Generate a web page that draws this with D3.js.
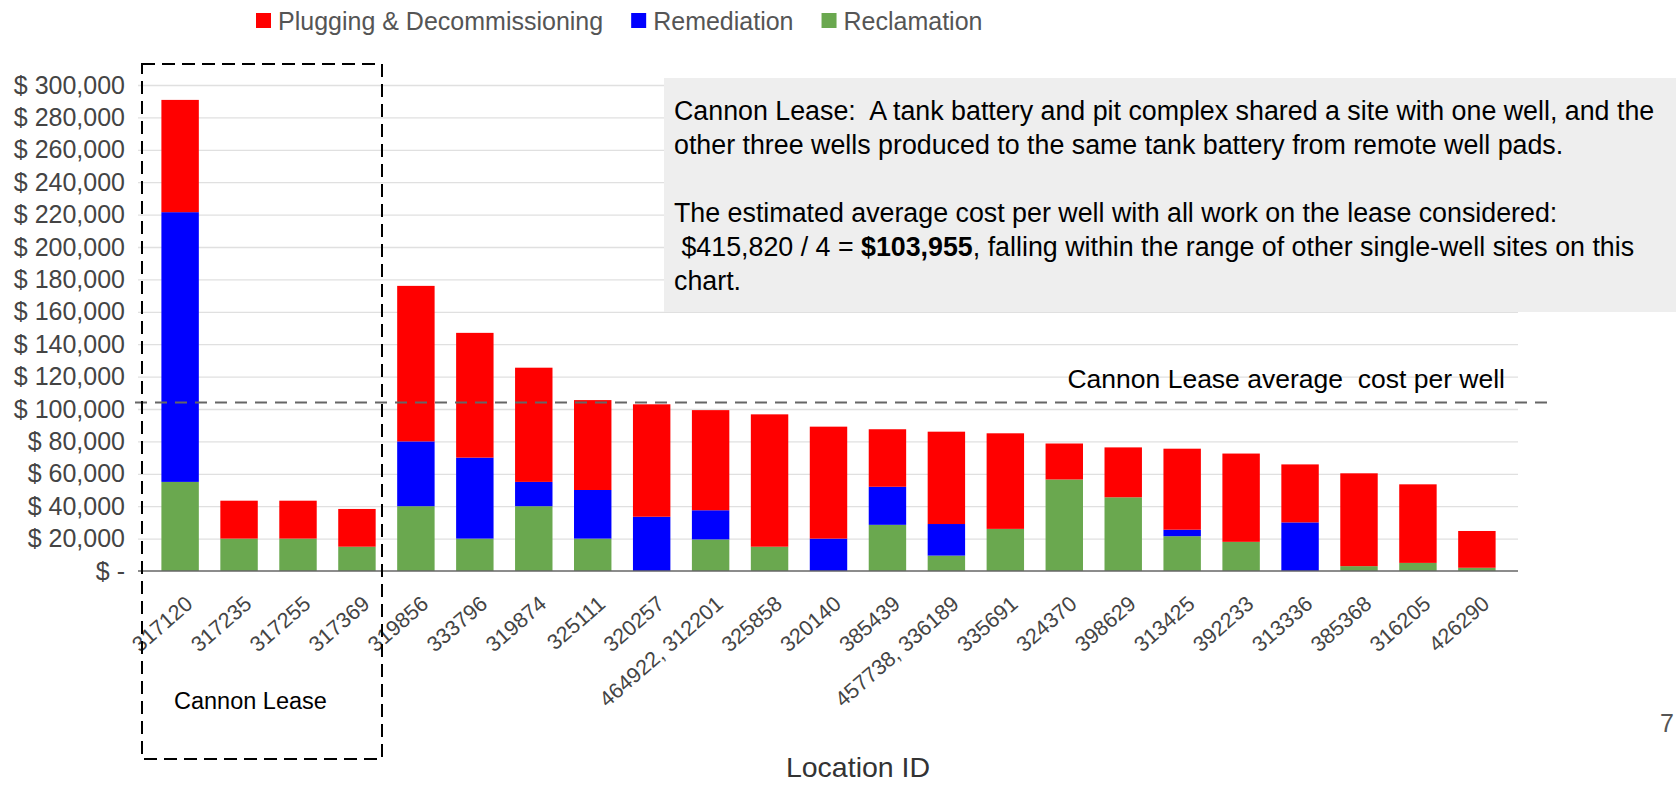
<!DOCTYPE html>
<html><head><meta charset="utf-8">
<script src="https://cdn.jsdelivr.net/npm/d3@7"></script>
<style>
html,body{margin:0;padding:0;background:#fff;}
svg{display:block;font-family:"Liberation Sans",Arial,Helvetica,sans-serif;}
</style>
</head><body>
<svg id="chart" width="1676" height="786"></svg>
<script>
// ---------------- data ----------------
const locations = ["317120","317235","317255","317369","319856","333796","319874","325111","320257","464922, 312201","325858","320140","385439","457738, 336189","335691","324370","398629","313425","392233","313336","385368","316205","426290"];
const reclamation = [55000,20000,20000,15000,40000,20000,40000,20000,0,19500,15000,0,28500,9500,26000,56500,45500,21500,18000,0,3000,5000,2000];
const remediation = [166500,0,0,0,40000,50000,15000,30000,33500,18000,0,20000,23500,19500,0,0,0,4000,0,30000,0,0,0];
const plugging = [69300,23400,23400,23300,96000,77000,70500,55500,69400,61800,81700,69100,35500,57000,59000,22200,30800,50000,54500,35800,57300,48500,22700];
const seriesNames = ["Plugging & Decommissioning","Remediation","Reclamation"];
const seriesColors = ["#ff0000","#0000ff","#6aa84f"];
const yTicks = [0,20000,40000,60000,80000,100000,120000,140000,160000,180000,200000,220000,240000,260000,280000,300000];
const leaseAverage = 103955;
const annotationLines = [
  ["Cannon Lease:  A tank battery and pit complex shared a site with one well, and the"],
  ["other three wells produced to the same tank battery from remote well pads."],
  [],
  ["The estimated average cost per well with all work on the lease considered:"],
  [" $415,820 / 4 = ", "$103,955", ", falling within the range of other single-well sites on this"],
  ["chart."]
];
const averageLabel = "Cannon Lease average  cost per well";
const leaseLabel = "Cannon Lease";
const xTitle = "Location ID";
const pageNumber = "7";

// ---------------- setup ----------------
const W = 1676, H = 786;
const svg = d3.select("#chart");
const plotL = 138, plotR = 1518, plotB = 571, plotT = 85;
const FONT = '"Liberation Sans",Arial,sans-serif';

const x = d3.scaleBand().domain(locations).range([plotL + 1, plotR]).paddingInner(0.365).paddingOuter(0.38);
const y = d3.scaleLinear().domain([0, 300000]).range([plotB, plotT]);

const rows = locations.map((loc, i) => ({
  loc,
  "Reclamation": reclamation[i],
  "Remediation": remediation[i],
  "Plugging & Decommissioning": plugging[i]
}));
const stackKeys = ["Reclamation", "Remediation", "Plugging & Decommissioning"];
const color = d3.scaleOrdinal().domain(seriesNames).range(seriesColors);
const stacked = d3.stack().keys(stackKeys)(rows);

// gridlines
const grid = svg.append("g").attr("transform", `translate(${plotL},0)`)
  .call(d3.axisLeft(y).tickValues(yTicks.filter(v => v > 0)).tickSize(-(plotR - plotL)).tickFormat(""));
grid.select(".domain").remove();
grid.selectAll("line").attr("stroke", "#e0e0e0").attr("stroke-width", 1.3);

// annotation box
svg.append("rect").attr("x", 664).attr("y", 78).attr("width", W - 664).attr("height", 234).attr("fill", "#eeeeee");

// bars
svg.append("g").selectAll("g").data(stacked).join("g")
  .attr("fill", d => color(d.key))
  .selectAll("rect").data(d => d).join("rect")
  .attr("x", d => x(d.data.loc))
  .attr("width", x.bandwidth())
  .attr("y", d => y(d[1]))
  .attr("height", d => Math.max(0, y(d[0]) - y(d[1])));

// x axis
const xAxis = svg.append("g").attr("transform", `translate(0,${plotB})`)
  .call(d3.axisBottom(x).tickSize(0).tickSizeOuter(0));
xAxis.select(".domain").attr("stroke", "#666").attr("stroke-width", 1.5)
  .attr("d", `M${plotL},0H${plotR}`);
xAxis.selectAll("text")
  .attr("x", 0).attr("y", 0).attr("dy", 0)
  .attr("transform", "translate(14,35) rotate(-41)")
  .attr("text-anchor", "end")
  .attr("fill", "#444")
  .style("font-family", FONT)
  .style("font-size", "21.5px");

// y axis labels
const yAxis = svg.append("g").attr("transform", `translate(${plotL},0)`)
  .call(d3.axisLeft(y).tickValues(yTicks).tickSize(0)
    .tickFormat(v => v === 0 ? "$ -" : "$ " + d3.format(",")(v)));
yAxis.select(".domain").remove();
yAxis.selectAll("text")
  .attr("x", -13)
  .attr("fill", "#444")
  .style("font-family", FONT)
  .style("font-size", "25px");

// average dashed line
svg.append("line")
  .attr("x1", 135).attr("x2", 1548)
  .attr("y1", y(leaseAverage)).attr("y2", y(leaseAverage))
  .attr("stroke", "#666").attr("stroke-width", 2).attr("stroke-dasharray", "12,8");
svg.append("text").attr("x", 1505).attr("y", 388).attr("text-anchor", "end")
  .attr("font-size", 26.5).attr("fill", "#000").style("white-space", "pre").text(averageLabel);

// Cannon lease dashed box
svg.append("rect")
  .attr("x", 142).attr("y", 64).attr("width", 382 - 142).attr("height", 759 - 64)
  .attr("fill", "none").attr("stroke", "#000").attr("stroke-width", 2).attr("stroke-dasharray", "13,7");
svg.append("text").attr("x", 174).attr("y", 709).attr("font-size", 23.5).attr("fill", "#000").text(leaseLabel);

// annotation text
const ann = svg.append("g");
const baselines = [120, 154, 188, 222, 256, 290];
annotationLines.forEach((parts, i) => {
  if (!parts.length) return;
  const t = ann.append("text").attr("x", 674).attr("y", baselines[i])
    .attr("font-size", 26.8).attr("fill", "#000").style("white-space", "pre");
  parts.forEach((p, j) => {
    t.append("tspan").text(p).attr("font-weight", (parts.length > 1 && j === 1) ? "bold" : null);
  });
});

// legend
const lg = svg.append("g");
let lx = 256;
seriesNames.forEach((name, i) => {
  lg.append("rect").attr("x", lx).attr("y", 13).attr("width", 15).attr("height", 15).attr("fill", seriesColors[i]);
  const t = lg.append("text").attr("x", lx + 22).attr("y", 30).attr("font-size", 25).attr("fill", "#555").text(name);
  lx += 22 + t.node().getComputedTextLength() + 28;
});

// axis title & page number
svg.append("text").attr("x", 858).attr("y", 777).attr("text-anchor", "middle")
  .attr("font-size", 28.5).attr("fill", "#333").text(xTitle);
svg.append("text").attr("x", 1660).attr("y", 732).attr("font-size", 25).attr("fill", "#555").text(pageNumber);
</script>
</body></html>
